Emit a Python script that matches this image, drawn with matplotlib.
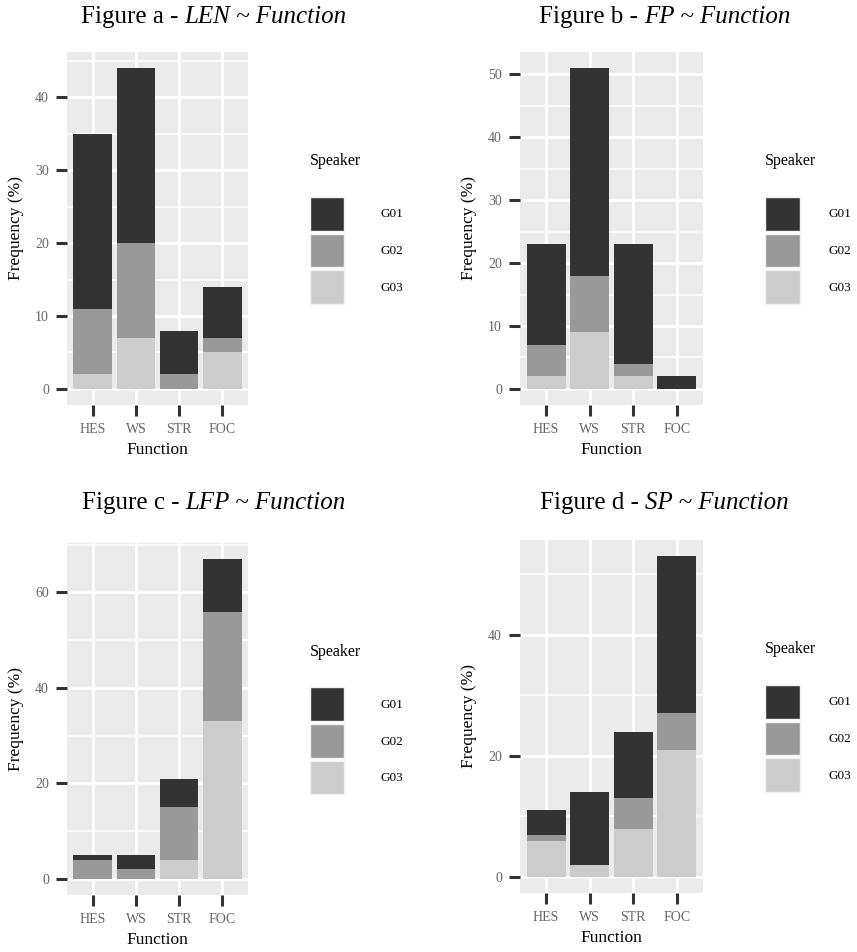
import matplotlib.pyplot as plt
from matplotlib.patches import Patch
from matplotlib.ticker import MultipleLocator

plt.rcParams['font.family'] = ['Liberation Serif', 'DejaVu Serif']

functions = ["HES", "WS", "STR", "FOC"]
speakers = ["G01", "G02", "G03"]
colors = {"G01": "#333333", "G02": "#999999", "G03": "#cccccc"}

# frequencies (%) per speaker, in the order of functions
len_g01 = [24, 24, 6, 7]
len_g02 = [9, 13, 2, 2]
len_g03 = [2, 7, 0, 5]

fp_g01 = [16, 33, 19, 2]
fp_g02 = [5, 9, 2, 0]
fp_g03 = [2, 9, 2, 0]

lfp_g01 = [1, 3, 6, 11]
lfp_g02 = [4, 2, 11, 23]
lfp_g03 = [0, 0, 4, 33]

sp_g01 = [4, 12, 11, 26]
sp_g02 = [1, 0, 5, 6]
sp_g03 = [6, 2, 8, 21]

panels = [
    ("a", "LEN", {"G01": len_g01, "G02": len_g02, "G03": len_g03}, 10),
    ("b", "FP", {"G01": fp_g01, "G02": fp_g02, "G03": fp_g03}, 10),
    ("c", "LFP", {"G01": lfp_g01, "G02": lfp_g02, "G03": lfp_g03}, 20),
    ("d", "SP", {"G01": sp_g01, "G02": sp_g02, "G03": sp_g03}, 20),
]

W, H = 857, 952
fig = plt.figure(figsize=(W / 100, H / 100), dpi=100)

# panel boxes in pixels: left, top, width, height
boxes = [(67, 52, 181, 353), (520, 52, 183, 353), (67, 543, 181, 352), (520, 540, 183, 353)]
title_pos = [(214, 17), (665, 17), (214, 503), (664, 503)]
text_pad = [2.8, 2.2, 2.8, 2.2]

renderer = fig.canvas.get_renderer()

for i, (letter, measure, data, step) in enumerate(panels):
    l, t, w, h = boxes[i]
    ax = fig.add_axes([l / W, 1 - (t + h) / H, w / W, h / H])
    ax.set_facecolor("#ebebeb")
    x = list(range(1, len(functions) + 1))
    bottom = [0] * len(functions)
    for sp in ["G03", "G02", "G01"]:
        ax.bar(x, data[sp], width=0.9, bottom=bottom, color=colors[sp], linewidth=0, zorder=3)
        bottom = [b + v for b, v in zip(bottom, data[sp])]
    top = max(bottom)
    ax.set_ylim(-0.05 * top, top * 1.05)
    ax.set_xlim(0.4, len(functions) + 0.6)
    ax.set_xticks(x)
    ax.set_xticklabels(functions)
    ax.yaxis.set_major_locator(MultipleLocator(step))
    ax.yaxis.set_minor_locator(MultipleLocator(step / 2))
    ax.grid(which="major", color="white", linewidth=2.0, zorder=1)
    ax.grid(which="minor", axis="y", color="white", linewidth=1.1, zorder=1)
    ax.set_axisbelow(True)
    for s in ax.spines.values():
        s.set_visible(False)
    ax.tick_params(which="major", length=8, width=2.2, color="#333333",
                   labelsize=10, labelcolor="#666666", pad=5)
    ax.tick_params(which="minor", length=0)
    ax.set_ylabel("Frequency (%)", fontsize=12.5)
    ax.yaxis.set_label_coords(-0.28, 0.5)
    ax.yaxis.label.set_va("center")
    ax.set_xlabel("Function", fontsize=12.5)
    ax.xaxis.set_label_coords(0.5, -0.128)
    ax.xaxis.label.set_va("center")

    handles = [Patch(facecolor=colors[sp], edgecolor="#f2f2f2", linewidth=1.0, label=sp) for sp in speakers]
    leg = ax.legend(handles=handles, title="Speaker", loc="center left", bbox_to_anchor=(1.34, 0.5),
                    frameon=False, fontsize=9.5, title_fontsize=11.5, handlelength=2.6, handleheight=3.55,
                    labelspacing=0.22, handletextpad=text_pad[i], borderpad=0, borderaxespad=0,
                    alignment="left")
    leg._legend_box.sep = 20

    # title: plain part then italic part, centred as a whole
    cx, cy = title_pos[i]
    t1 = fig.text(0, 1 - cy / H, "Figure %s - " % letter, fontsize=18, va="center")
    t2 = fig.text(0, 1 - cy / H, "%s ~ Function" % measure, fontsize=18, va="center", style="italic")
    w1 = t1.get_window_extent(renderer).width
    w2 = t2.get_window_extent(renderer).width
    x0 = cx - (w1 + w2) / 2
    t1.set_x(x0 / W)
    t2.set_x((x0 + w1) / W)

fig.savefig("out.png", dpi=100)
